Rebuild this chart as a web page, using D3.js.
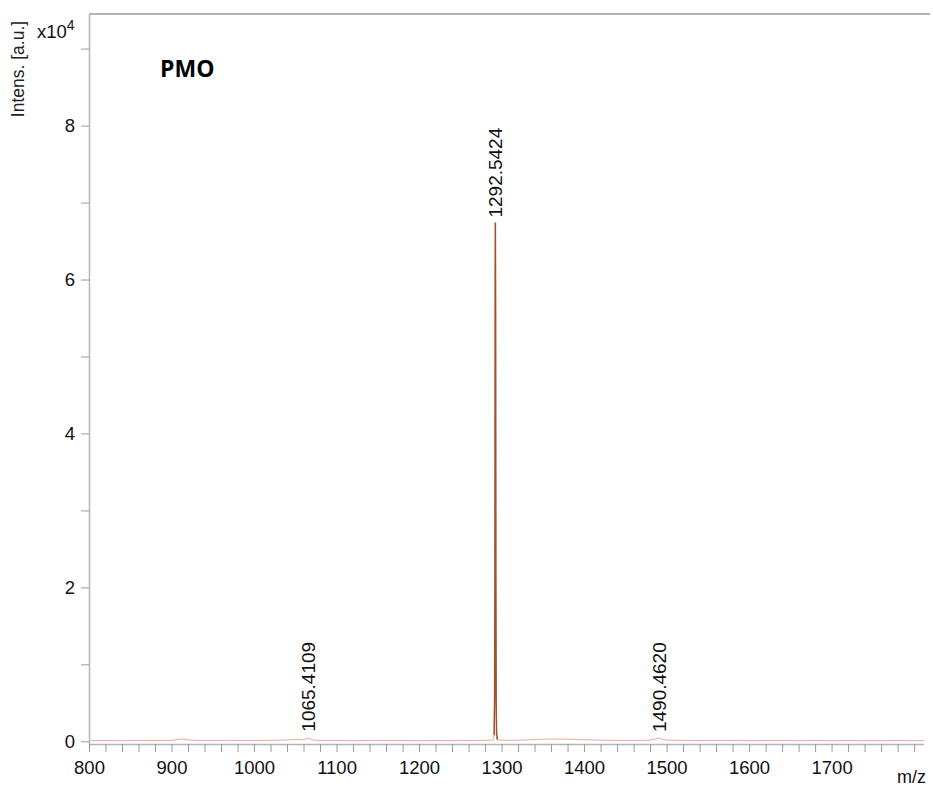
<!DOCTYPE html>
<html>
<head>
<meta charset="utf-8">
<script src="https://cdn.jsdelivr.net/npm/d3@7"></script>
<style>
  body { margin: 0; background: #fff; }
  text { font-family: "Liberation Sans", Arial, sans-serif; }
</style>
</head>
<body>
<div id="chart"></div>
<script>
// spectrum, intensity in x10^4 a.u.
var noiseMz  = [800, 820, 840, 860, 880, 900, 905, 910, 915, 920, 930, 950, 970, 990, 1010, 1030,
                1045, 1050, 1055, 1060, 1065.4, 1070, 1080, 1100, 1120, 1140, 1160, 1180, 1200,
                1220, 1240, 1260, 1280, 1288, 1290];
var noiseInt = [0.008, 0.01, 0.008, 0.012, 0.01, 0.012, 0.02, 0.028, 0.03, 0.018, 0.012, 0.01, 0.014,
                0.01, 0.012, 0.014, 0.02, 0.026, 0.024, 0.02, 0.045, 0.018, 0.012, 0.01, 0.008, 0.01,
                0.012, 0.01, 0.008, 0.01, 0.008, 0.01, 0.012, 0.015, 0.02];
var peakMz   = [1291.0, 1291.6, 1292.0, 1292.3, 1292.54, 1292.8, 1293.1, 1293.5, 1294.0, 1295.0];
var peakInt  = [0.08, 0.6, 2.3, 6.0, 6.74, 5.6, 2.1, 0.5, 0.1, 0.02];
var tailMz   = [1298, 1310, 1330, 1345, 1360, 1375, 1390, 1405, 1420, 1440, 1460, 1480, 1490.5, 1500,
                1520, 1540, 1560, 1580, 1600, 1620, 1640, 1660, 1680, 1700, 1720, 1740, 1760, 1780, 1800, 1812];
var tailInt  = [0.015, 0.012, 0.018, 0.026, 0.03, 0.028, 0.026, 0.02, 0.015, 0.012, 0.01, 0.015, 0.04, 0.015,
                0.012, 0.01, 0.012, 0.01, 0.008, 0.01, 0.012, 0.008, 0.01, 0.008, 0.01, 0.008, 0.008, 0.01, 0.008, 0.008];

var peakLabels = [
  { mz: 1065.4109, top: 0.06 },
  { mz: 1292.5424, top: 6.74 },
  { mz: 1490.4620, top: 0.055 }
];

var xDomain = [800, 1812];
var yDomain = [-0.035, 9.45];
var xMajor = [800, 900, 1000, 1100, 1200, 1300, 1400, 1500, 1600, 1700];
var yMajor = [0, 2, 4, 6, 8];
var sampleTitle = 'PMO';

var width = 933, height = 788;
var pLeft = 89, pRight = 924, pTop = 14, pBottom = 744;

var svg = d3.select('#chart').append('svg')
    .attr('width', width)
    .attr('height', height);

var x = d3.scaleLinear().domain(xDomain).range([pLeft, pRight]);
var y = d3.scaleLinear().domain(yDomain).range([pBottom, pTop]);

var axisColor = '#b4b4b4';

// frame: top line only
svg.append('line')
    .attr('x1', pLeft).attr('x2', 930)
    .attr('y1', pTop).attr('y2', pTop)
    .style('stroke', axisColor).style('stroke-width', 2);

// x axis
var xMinor = d3.range(800, 1820, 20);
var xAxis = svg.append('g')
    .attr('transform', `translate(0,${pBottom})`)
    .call(d3.axisBottom(x).tickValues(xMinor).tickSize(8).tickFormat((d) => {
        return xMajor.indexOf(d) != -1 ? d : '';
    }));
xAxis.select('.domain').attr('d', `M${pLeft},0.5H${pRight}`).style('stroke', axisColor).style('stroke-width', 1.5);
xAxis.selectAll('.tick line').style('stroke', '#999');
xAxis.selectAll('.tick text')
    .style('font-size', '18.5px')
    .style('fill', '#111')
    .attr('dy', '1.0em');

// y axis
var yMinor = d3.range(0, 10, 1);
var yAxis = svg.append('g')
    .attr('transform', `translate(${pLeft},0)`)
    .call(d3.axisLeft(y).tickValues(yMinor).tickSize(8).tickFormat((d) => {
        return yMajor.indexOf(d) != -1 ? d : '';
    }));
yAxis.select('.domain').attr('d', `M0.5,${pTop}V${pBottom}`).style('stroke', axisColor).style('stroke-width', 1.5);
yAxis.selectAll('.tick line').style('stroke', '#999');
yAxis.selectAll('.tick text')
    .style('font-size', '18.5px')
    .style('fill', '#111')
    .attr('x', -14);

// axis titles
svg.append('text')
    .attr('transform', 'translate(24,69) rotate(-90)')
    .style('text-anchor', 'middle')
    .style('font-size', '17.5px')
    .style('fill', '#222')
    .text('Intens. [a.u.]');

var exp = svg.append('text')
    .attr('x', 37).attr('y', 38)
    .style('font-size', '18.5px')
    .style('fill', '#111');
exp.append('tspan').text('x10');
exp.append('tspan').attr('dy', -8).style('font-size', '14px').text('4');

svg.append('text')
    .attr('x', 926).attr('y', 783)
    .style('text-anchor', 'end')
    .style('font-size', '18px')
    .style('fill', '#111')
    .text('m/z');

svg.append('text')
    .attr('x', 160).attr('y', 77)
    .style('font-family', '"Open Sans", "Noto Sans", sans-serif')
    .style('font-weight', 'bold')
    .style('font-size', '23px')
    .style('fill', '#000')
    .text(sampleTitle);

// spectrum
var line = d3.line().x((d) => x(d[0])).y((d) => y(d[1]));
var noise = noiseMz.map((m, i) => [m, noiseInt[i]]);
var tail = tailMz.map((m, i) => [m, tailInt[i]]);
var peak = peakMz.map((m, i) => [m, peakInt[i]]);

svg.append('path')
    .attr('d', line(noise.concat(peak).concat(tail)))
    .style('fill', 'none')
    .style('stroke', '#e8a89a')
    .style('stroke-width', 1);

svg.append('path')
    .attr('d', line(peak))
    .style('fill', 'none')
    .style('stroke', '#a0522d')
    .style('stroke-width', 1.5);

// peak labels
svg.selectAll('.plabel')
    .data(peakLabels)
    .join('text')
    .attr('class', 'plabel')
    .attr('transform', (d) => `translate(${x(d.mz) + 7},${y(d.top) - 5}) rotate(-90)`)
    .style('font-size', '19px')
    .style('fill', '#111')
    .text((d) => d.mz.toFixed(4));
</script>
</body>
</html>
